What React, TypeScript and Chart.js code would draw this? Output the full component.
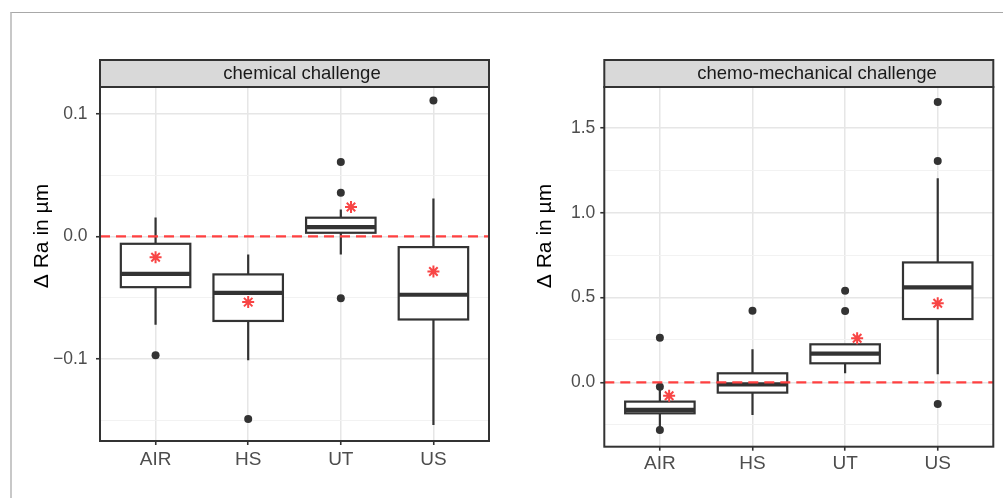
import React, { useEffect, useRef } from "react";
import { Chart, registerables } from "chart.js";

Chart.register(...registerables);

// ---------- data ----------
const categories = ["AIR", "HS", "UT", "US"];
const yAxisTitle = "Δ Ra in µm";
const referenceLine = 0;

// chemical challenge
const chemTitle = "chemical challenge";
const chemQ1 = [-0.0414, -0.069, 0.003, -0.0678];
const chemMedian = [-0.0305, -0.046, 0.0076, -0.0476];
const chemQ3 = [-0.006, -0.031, 0.0153, -0.0087];
const chemWhiskerLow = [-0.072, -0.101, -0.0147, -0.154];
const chemWhiskerHigh = [0.0155, -0.0147, 0.022, 0.031];
const chemMean: (number | null)[] = [-0.017, -0.0536, 0.024, -0.0286];
const chemMeanShift = [0, 0, 0.11, 0];
const chemOutliers = [[-0.097], [-0.149], [0.0607, 0.0357, -0.0504], [0.111]];
const chemMajorTicks = [-0.1, 0, 0.1];
const chemMinorTicks = [-0.15, -0.05, 0.05];
const chemRange = [-0.167, 0.122];

// chemo-mechanical challenge
const mechTitle = "chemo-mechanical challenge";
const mechQ1 = [-0.183, -0.061, 0.112, 0.373];
const mechMedian = [-0.163, -0.012, 0.169, 0.56];
const mechQ3 = [-0.114, 0.053, 0.224, 0.707];
const mechWhiskerLow = [-0.265, -0.193, 0.053, 0.047];
const mechWhiskerHigh = [-0.035, 0.195, 0.224, 1.203];
const mechMean: (number | null)[] = [-0.079, null, 0.26, 0.466];
const mechMeanShift = [0.1, 0, 0.13, 0];
const mechOutliers = [[0.263, -0.026, -0.281], [0.422], [0.54, 0.42], [1.654, 1.306, -0.128]];
const mechMajorTicks = [0, 0.5, 1, 1.5];
const mechMinorTicks = [-0.25, 0.25, 0.75, 1.25];
const mechRange = [-0.38, 1.742];

// ---------- rendering ----------
const FONT = '"Liberation Sans", Arial, Helvetica, sans-serif';
const DARK = "#333333";

type Spec = {
  title: string;
  q1: number[];
  median: number[];
  q3: number[];
  lo: number[];
  hi: number[];
  mean: (number | null)[];
  meanShift: number[];
  outliers: number[][];
  major: number[];
  minor: number[];
  range: number[];
};

type Layout = {
  left: number;
  width: number;
  height: number;
  plotLeft: number;
  plotRight: number;
  plotTop: number;
  plotBottom: number;
  yPad: number;
  xPad: number;
  titleX: number;
  titleY: number;
  stripTextX: number;
};

const chemSpec: Spec = {
  title: chemTitle, q1: chemQ1, median: chemMedian, q3: chemQ3, lo: chemWhiskerLow, hi: chemWhiskerHigh,
  mean: chemMean, meanShift: chemMeanShift, outliers: chemOutliers, major: chemMajorTicks, minor: chemMinorTicks, range: chemRange,
};
const mechSpec: Spec = {
  title: mechTitle, q1: mechQ1, median: mechMedian, q3: mechQ3, lo: mechWhiskerLow, hi: mechWhiskerHigh,
  mean: mechMean, meanShift: mechMeanShift, outliers: mechOutliers, major: mechMajorTicks, minor: mechMinorTicks, range: mechRange,
};

const chemLayout: Layout = {
  left: 0, width: 500, height: 498, plotLeft: 100, plotRight: 489, plotTop: 87, plotBottom: 441,
  yPad: 8.5, xPad: 3.5, titleX: 42, titleY: 236, stripTextX: 302,
};
const mechLayout: Layout = {
  left: 500, width: 503, height: 498, plotLeft: 104.3, plotRight: 493.3, plotTop: 87, plotBottom: 446.7,
  yPad: 5, xPad: 1.5, titleX: 45, titleY: 236, stripTextX: 317,
};

function fmt(v: number) {
  const s = Math.abs(v).toFixed(1);
  return v < -1e-9 ? "\u2212" + s : s;
}

function Panel({ spec, layout }: { spec: Spec; layout: Layout }) {
  const ref = useRef<HTMLCanvasElement>(null);

  useEffect(() => {
    const canvas = ref.current!;
    const isMajor = (v: number) => spec.major.some((m) => Math.abs(m - v) < 1e-9);

    const plugin = {
      id: "ggbox",
      beforeDatasetsDraw(chart: any) {
        const { ctx, chartArea } = chart;
        const xs = chart.scales.x;
        const ys = chart.scales.y;
        ctx.save();
        ctx.beginPath();
        ctx.rect(chartArea.left, chartArea.top, chartArea.right - chartArea.left, chartArea.bottom - chartArea.top);
        ctx.clip();
        ctx.strokeStyle = DARK;
        spec.q1.forEach((q1, i) => {
          const cx = xs.getPixelForValue(i + 1);
          const hw = xs.getPixelForValue(i + 1 + 0.375) - cx;
          const yq1 = ys.getPixelForValue(q1);
          const yq3 = ys.getPixelForValue(spec.q3[i]);
          const ym = ys.getPixelForValue(spec.median[i]);
          const ylo = ys.getPixelForValue(spec.lo[i]);
          const yhi = ys.getPixelForValue(spec.hi[i]);
          ctx.lineWidth = 2.2;
          ctx.beginPath();
          ctx.moveTo(cx, yhi);
          ctx.lineTo(cx, yq3);
          ctx.moveTo(cx, yq1);
          ctx.lineTo(cx, ylo);
          ctx.stroke();
          ctx.fillStyle = "#ffffff";
          ctx.fillRect(cx - hw, yq3, 2 * hw, yq1 - yq3);
          ctx.strokeRect(cx - hw, yq3, 2 * hw, yq1 - yq3);
          ctx.lineWidth = 4.2;
          ctx.beginPath();
          ctx.moveTo(cx - hw, ym);
          ctx.lineTo(cx + hw, ym);
          ctx.stroke();
        });
        ctx.restore();
      },
      afterDatasetDraw(chart: any, args: any) {
        if (args.index !== 1) return;
        const { ctx, chartArea } = chart;
        const y = chart.scales.y.getPixelForValue(referenceLine);
        ctx.save();
        ctx.strokeStyle = "#ff4040";
        ctx.lineWidth = 2.3;
        ctx.setLineDash([10, 6]);
        ctx.beginPath();
        ctx.moveTo(chartArea.left, y);
        ctx.lineTo(chartArea.right, y);
        ctx.stroke();
        ctx.restore();
      },
      afterDraw(chart: any) {
        const { ctx, chartArea } = chart;
        ctx.save();
        ctx.strokeStyle = DARK;
        ctx.lineWidth = 2;
        ctx.strokeRect(chartArea.left, chartArea.top, chartArea.right - chartArea.left, chartArea.bottom - chartArea.top);
        const stripTop = 60;
        ctx.fillStyle = "#d9d9d9";
        ctx.fillRect(chartArea.left, stripTop, chartArea.right - chartArea.left, chartArea.top - stripTop);
        ctx.strokeRect(chartArea.left, stripTop, chartArea.right - chartArea.left, chartArea.top - stripTop);
        ctx.fillStyle = "#1a1a1a";
        ctx.font = `18.5px ${FONT}`;
        ctx.textAlign = "center";
        ctx.textBaseline = "middle";
        ctx.fillText(spec.title, layout.stripTextX, (stripTop + chartArea.top) / 2 + 0.5);
        ctx.translate(layout.titleX, layout.titleY);
        ctx.rotate(-Math.PI / 2);
        ctx.fillStyle = "#000000";
        ctx.font = `21px ${FONT}`;
        ctx.fillText(yAxisTitle, 0, 0);
        ctx.restore();
      },
    };

    const outlierData: { x: number; y: number }[] = [];
    spec.outliers.forEach((arr, i) => arr.forEach((v) => outlierData.push({ x: i + 1, y: v })));
    const meanData: { x: number; y: number }[] = [];
    spec.mean.forEach((m, i) => {
      if (m !== null) meanData.push({ x: i + 1 + spec.meanShift[i], y: m });
    });

    const chart = new Chart(canvas, {
      type: "scatter",
      data: {
        datasets: [
          {
            label: "mean",
            data: meanData,
            pointStyle: "star",
            pointRadius: 6,
            borderColor: "#f84545",
            backgroundColor: "#f84545",
            borderWidth: 2,
          },
          {
            label: "outliers",
            data: outlierData,
            pointStyle: "circle",
            pointRadius: 4,
            backgroundColor: DARK,
            borderWidth: 0,
          },
        ],
      },
      options: {
        responsive: false,
        animation: false,
        events: [],
        devicePixelRatio: 1,
        layout: {
          padding: {
            left: 0,
            top: layout.plotTop,
            right: layout.width - layout.plotRight,
            bottom: 0,
          },
        },
        plugins: { legend: { display: false }, tooltip: { enabled: false }, title: { display: false } },
        scales: {
          x: {
            type: "linear",
            min: 0.4,
            max: categories.length + 0.6,
            afterBuildTicks: (scale: any) => {
              scale.ticks = categories.map((_, i) => ({ value: i + 1 }));
            },
            afterFit: (scale: any) => {
              scale.height = layout.height - layout.plotBottom;
            },
            border: { display: false },
            grid: { color: "#e6e6e6", lineWidth: 1.5, tickColor: DARK, tickLength: 4, tickWidth: 1.6 },
            ticks: {
              autoSkip: false,
              maxRotation: 0,
              padding: layout.xPad,
              color: "#4d4d4d",
              font: { family: FONT, size: 19 },
              callback: (v: any) => categories[Math.round(Number(v)) - 1] ?? "",
            },
          },
          y: {
            type: "linear",
            min: spec.range[0],
            max: spec.range[1],
            afterBuildTicks: (scale: any) => {
              scale.ticks = [...spec.major, ...spec.minor].sort((a, b) => a - b).map((v) => ({ value: v }));
            },
            afterFit: (scale: any) => {
              scale.width = layout.plotLeft;
            },
            border: { display: false },
            grid: {
              color: (c: any) => (isMajor(c.tick?.value ?? 0) ? "#e6e6e6" : "#f0f0f0"),
              lineWidth: (c: any) => (isMajor(c.tick?.value ?? 0) ? 1.5 : 0.9),
              tickColor: (c: any) => (isMajor(c.tick?.value ?? 0) ? DARK : "rgba(0,0,0,0)"),
              tickLength: 4,
              tickWidth: 1.6,
            },
            ticks: {
              autoSkip: false,
              padding: layout.yPad,
              color: "#4d4d4d",
              font: { family: FONT, size: 17.5 },
              callback: (v: any) => (isMajor(Number(v)) ? fmt(Number(v)) : ""),
            },
          },
        },
      },
      plugins: [plugin],
    } as any);

    return () => chart.destroy();
  }, [spec, layout]);

  return (
    <canvas
      ref={ref}
      width={layout.width}
      height={layout.height}
      style={{ position: "absolute", left: layout.left, top: 0, width: layout.width, height: layout.height }}
    />
  );
}

export default function App() {
  return (
    <div style={{ position: "absolute", left: 0, top: 0, width: 1003, height: 498, background: "#ffffff", overflow: "hidden" }}>
      <div
        style={{
          position: "absolute",
          left: 10,
          top: 12,
          width: 1100,
          height: 600,
          borderTop: "1px solid #a8a8a8",
          borderLeft: "2px solid #c8c8c8",
        }}
      />
      <Panel spec={chemSpec} layout={chemLayout} />
      <Panel spec={mechSpec} layout={mechLayout} />
    </div>
  );
}
